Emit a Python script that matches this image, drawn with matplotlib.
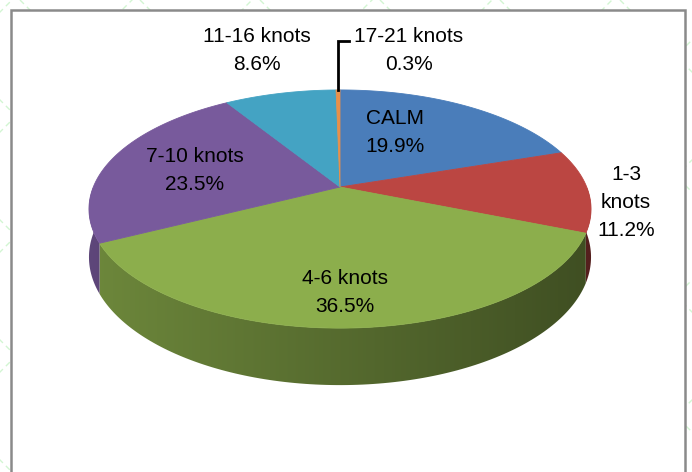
import numpy as np
import matplotlib.pyplot as plt
from matplotlib.colors import to_rgb
from matplotlib.patches import Polygon, Rectangle

plt.rcParams['font.family'] = ['Liberation Sans', 'DejaVu Sans']

# Wind speed share (clockwise from 12 o'clock)
labels = ['CALM', '1-3\nknots', '4-6 knots', '7-10 knots', '11-16 knots', '17-21 knots']
values = [19.9, 11.2, 36.5, 23.5, 8.6, 0.3]
colors = ['#4a7dba', '#bb4642', '#8cae4c', '#785a9c', '#44a3c3', '#e8904a']

# label centres (pixels), Excel-style placement
label_pos = [(395, 133), (626, 203), (345, 292), (195, 171), (257, 51), (409, 51)]

# perspective disc: centre, radii, tilt factor, thickness
cx, cy = 340, 187
A, B, k = 246.7, 115.0, 0.185
H = 57 * (1 - k)


def project(theta, drop=0.0):
    t = np.radians(theta)
    u, v = np.cos(t), np.sin(t)
    den = 1 + k * v
    return cx + A * u / den, cy - B * v / den + drop / den


fig = plt.figure(figsize=(6.92, 4.72), dpi=100)
ax = fig.add_axes([0, 0, 1, 1])
ax.set_xlim(0, 692)
ax.set_ylim(472, 0)
ax.axis('off')

# faint watermark lattice behind the chart box
for off in np.arange(-700, 1400, 120):
    xs = np.array([off, off + 600])
    ax.plot(xs, xs - off, color='#d2f5d2', lw=1, ls=(0, (4, 3)), zorder=0)
    ax.plot(xs, -(xs - off) + 472, color='#d2f5d2', lw=1, ls=(0, (4, 3)), zorder=0)

ax.add_patch(Rectangle((11, 10), 674, 480, facecolor='white', edgecolor='#8a8a8a',
                       lw=1.8, zorder=1))

# slice boundaries in degrees (math convention, clockwise from 90)
cum = np.concatenate([[0], np.cumsum(values)])
theta = 90 - 360 * cum / cum[-1]

x_left, x_right = cx - A * 1.02, cx + A * 1.02
gx = np.linspace(0, 1, 200)
fshade = 0.78 - 0.33 * gx

for i, c in enumerate(colors):
    t1, t2 = theta[i + 1], theta[i]
    # side wall for the front half, shaded left to right
    lo, hi = max(t1, -180), min(t2, 0)
    if lo < hi:
        arc = np.linspace(lo, hi, max(int(hi - lo) + 2, 2))
        top = [project(a) for a in arc]
        bot = [project(a, H) for a in arc[::-1]]
        side = Polygon(top + bot, closed=True, facecolor='none', edgecolor='none', zorder=2)
        ax.add_patch(side)
        grad = np.clip(np.array(to_rgb(c))[None, None, :] * fshade[None, :, None], 0, 1)
        im = ax.imshow(grad, extent=(x_left, x_right, cy + B / (1 - k) + H / (1 - k) + 5, cy),
                       aspect='auto', interpolation='bilinear', zorder=2)
        im.set_clip_path(side)
    # top face
    arc = np.linspace(t2, t1, max(int((t2 - t1) / 0.5) + 2, 2))
    pts = [(cx, cy)] + [project(a) for a in arc]
    ax.add_patch(Polygon(pts, closed=True, facecolor=c, edgecolor=c, lw=0.6, zorder=3))

ax.set_xlim(0, 692)
ax.set_ylim(472, 0)

# data labels
for (x, y), lab, v in zip(label_pos, labels, values):
    ax.text(x, y, f'{lab}\n{v:.1f}%', ha='center', va='center', fontsize=15,
            linespacing=1.6, color='black', zorder=5)

# leader line for the thin 17-21 knots slice
lx, ly = project(0.5 * (theta[-2] + theta[-1]))
ax.plot([lx, lx, lx + 11], [ly, 41, 41], color='black', lw=2, zorder=4,
        solid_joinstyle='miter')

fig.savefig('out.png', dpi=100)
